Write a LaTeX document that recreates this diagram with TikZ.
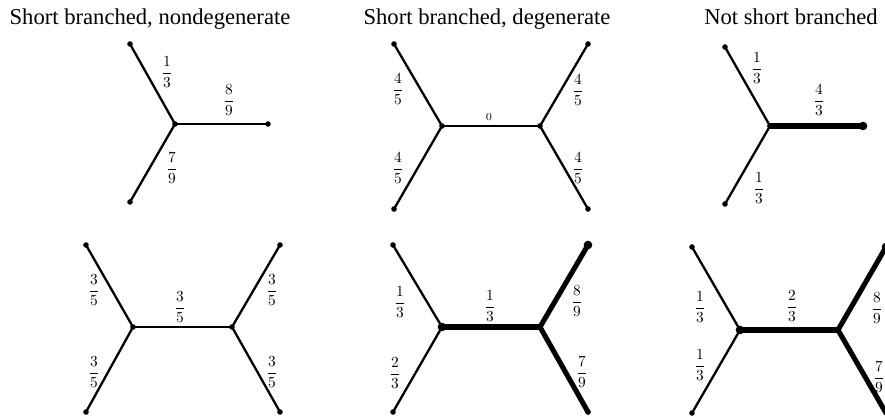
\documentclass[tikz,border=0pt]{standalone}
\usepackage[no-math]{fontspec}
\setmainfont{Liberation Serif}
\begin{document}
\begin{tikzpicture}[x=0.65pt,y=-0.65pt]
  \tikzset{
    edge/.style={line width=1.5pt, line cap=round},
    heavy/.style={line width=3.3pt, line cap=round},
    title/.style={anchor=base, font=\fontsize{14.7}{17}\selectfont},
    wt/.style={inner sep=0pt}
  }
  \useasboundingbox (0,0) rectangle (885,418);
  \clip (0,0) rectangle (885,418);

  \node[title] (tA) at (150,25) {Short branched, nondegenerate};
  \node[title] (tB) at (487,25) {Short branched, degenerate};
  \node[title] (tC) at (791,25) {Not short branched};

  % short branched, nondegenerate
  \coordinate (Ac) at (175,124);
  \coordinate (Aa) at (130,44);
  \coordinate (Ab) at (268,124);
  \coordinate (Ad) at (130,202);
  \draw[edge] (Ac) -- (Aa);
  \draw[edge] (Ac) -- (Ab);
  \draw[edge] (Ac) -- (Ad);
  \node[wt] (wA1) at (167,72) {$\displaystyle\frac{1}{3}$};
  \node[wt] (wA2) at (229,100) {$\displaystyle\frac{8}{9}$};
  \node[wt] (wA3) at (172,168) {$\displaystyle\frac{7}{9}$};

  \coordinate (Dl) at (133,327);
  \coordinate (Dr) at (232,327);
  \coordinate (Da) at (86,245);
  \coordinate (Db) at (86,412);
  \coordinate (Dc) at (280,245);
  \coordinate (Dd) at (280,412);
  \draw[edge] (Da) -- (Dl) -- (Db);
  \draw[edge] (Dl) -- (Dr);
  \draw[edge] (Dc) -- (Dr) -- (Dd);
  \node[wt] (wD1) at (94,290) {$\displaystyle\frac{3}{5}$};
  \node[wt] (wD2) at (94,372) {$\displaystyle\frac{3}{5}$};
  \node[wt] (wD3) at (180,307) {$\displaystyle\frac{3}{5}$};
  \node[wt] (wD4) at (272,290) {$\displaystyle\frac{3}{5}$};
  \node[wt] (wD5) at (272,372) {$\displaystyle\frac{3}{5}$};

  % short branched, degenerate
  \coordinate (Bl) at (442,126);
  \coordinate (Br) at (540,126);
  \coordinate (Ba) at (394,44);
  \coordinate (Bb) at (394,209);
  \coordinate (Bc) at (588,44);
  \coordinate (Bd) at (588,209);
  \draw[edge] (Ba) -- (Bl) -- (Bb);
  \draw[edge] (Bl) -- (Br);
  \draw[edge] (Bc) -- (Br) -- (Bd);
  \node[wt] (wB1) at (398,89) {$\displaystyle\frac{4}{5}$};
  \node[wt] (wB2) at (398,168) {$\displaystyle\frac{4}{5}$};
  \node[wt] (wB3) at (489,117) {$\scriptstyle 0$};
  \node[wt] (wB4) at (578,90) {$\displaystyle\frac{4}{5}$};
  \node[wt] (wB5) at (578,168) {$\displaystyle\frac{4}{5}$};

  \coordinate (El) at (442,327);
  \coordinate (Er) at (540,327);
  \coordinate (Ea) at (393,245);
  \coordinate (Eb) at (393,412);
  \coordinate (Ec) at (588,245);
  \coordinate (Ed) at (588,412);
  \draw[edge] (Ea) -- (El) -- (Eb);
  \draw[heavy] (El) -- (Er);
  \draw[heavy] (Ec) -- (Er) -- (Ed);
  \node[wt] (wE1) at (400,302) {$\displaystyle\frac{1}{3}$};
  \node[wt] (wE2) at (395,373) {$\displaystyle\frac{2}{3}$};
  \node[wt] (wE3) at (490,306) {$\displaystyle\frac{1}{3}$};
  \node[wt] (wE4) at (577,301) {$\displaystyle\frac{8}{9}$};
  \node[wt] (wE5) at (582,372) {$\displaystyle\frac{7}{9}$};

  % not short branched
  \coordinate (Cc) at (770,126);
  \coordinate (Ca) at (725,47);
  \coordinate (Cb) at (863,126);
  \coordinate (Cd) at (725,204);
  \draw[edge] (Cc) -- (Ca);
  \draw[heavy] (Cc) -- (Cb);
  \draw[edge] (Cc) -- (Cd);
  \node[wt] (wC1) at (757,68) {$\displaystyle\frac{1}{3}$};
  \node[wt] (wC2) at (819,100) {$\displaystyle\frac{4}{3}$};
  \node[wt] (wC3) at (759,188) {$\displaystyle\frac{1}{3}$};

  \coordinate (Fl) at (740,330);
  \coordinate (Fr) at (838,330);
  \coordinate (Fa) at (692,247);
  \coordinate (Fb) at (692,413);
  \coordinate (Fc) at (886,247);
  \coordinate (Fd) at (886,413);
  \draw[edge] (Fa) -- (Fl) -- (Fb);
  \draw[heavy] (Fl) -- (Fr);
  \draw[heavy] (Fc) -- (Fr) -- (Fd);
  \node[wt] (wF1) at (700,307) {$\displaystyle\frac{1}{3}$};
  \node[wt] (wF2) at (700,365) {$\displaystyle\frac{1}{3}$};
  \node[wt] (wF3) at (792,306) {$\displaystyle\frac{2}{3}$};
  \node[wt] (wF4) at (877,308) {$\displaystyle\frac{8}{9}$};
  \node[wt] (wF5) at (879,377) {$\displaystyle\frac{7}{9}$};

  % dots
  \foreach \p in {Ac,Aa,Ab,Ad,Da,Db,Dc,Dd,Dl,Dr,Ba,Bb,Bc,Bd,Bl,Br,Ea,Eb,Ed,Er,Cc,Ca,Cd,Fa,Fb,Fr}
    \fill (\p) circle[radius=1.8pt];
  \foreach \p in {El,Ec,Cb,Fl,Fc}
    \fill (\p) circle[radius=2.8pt];
\end{tikzpicture}
\end{document}
